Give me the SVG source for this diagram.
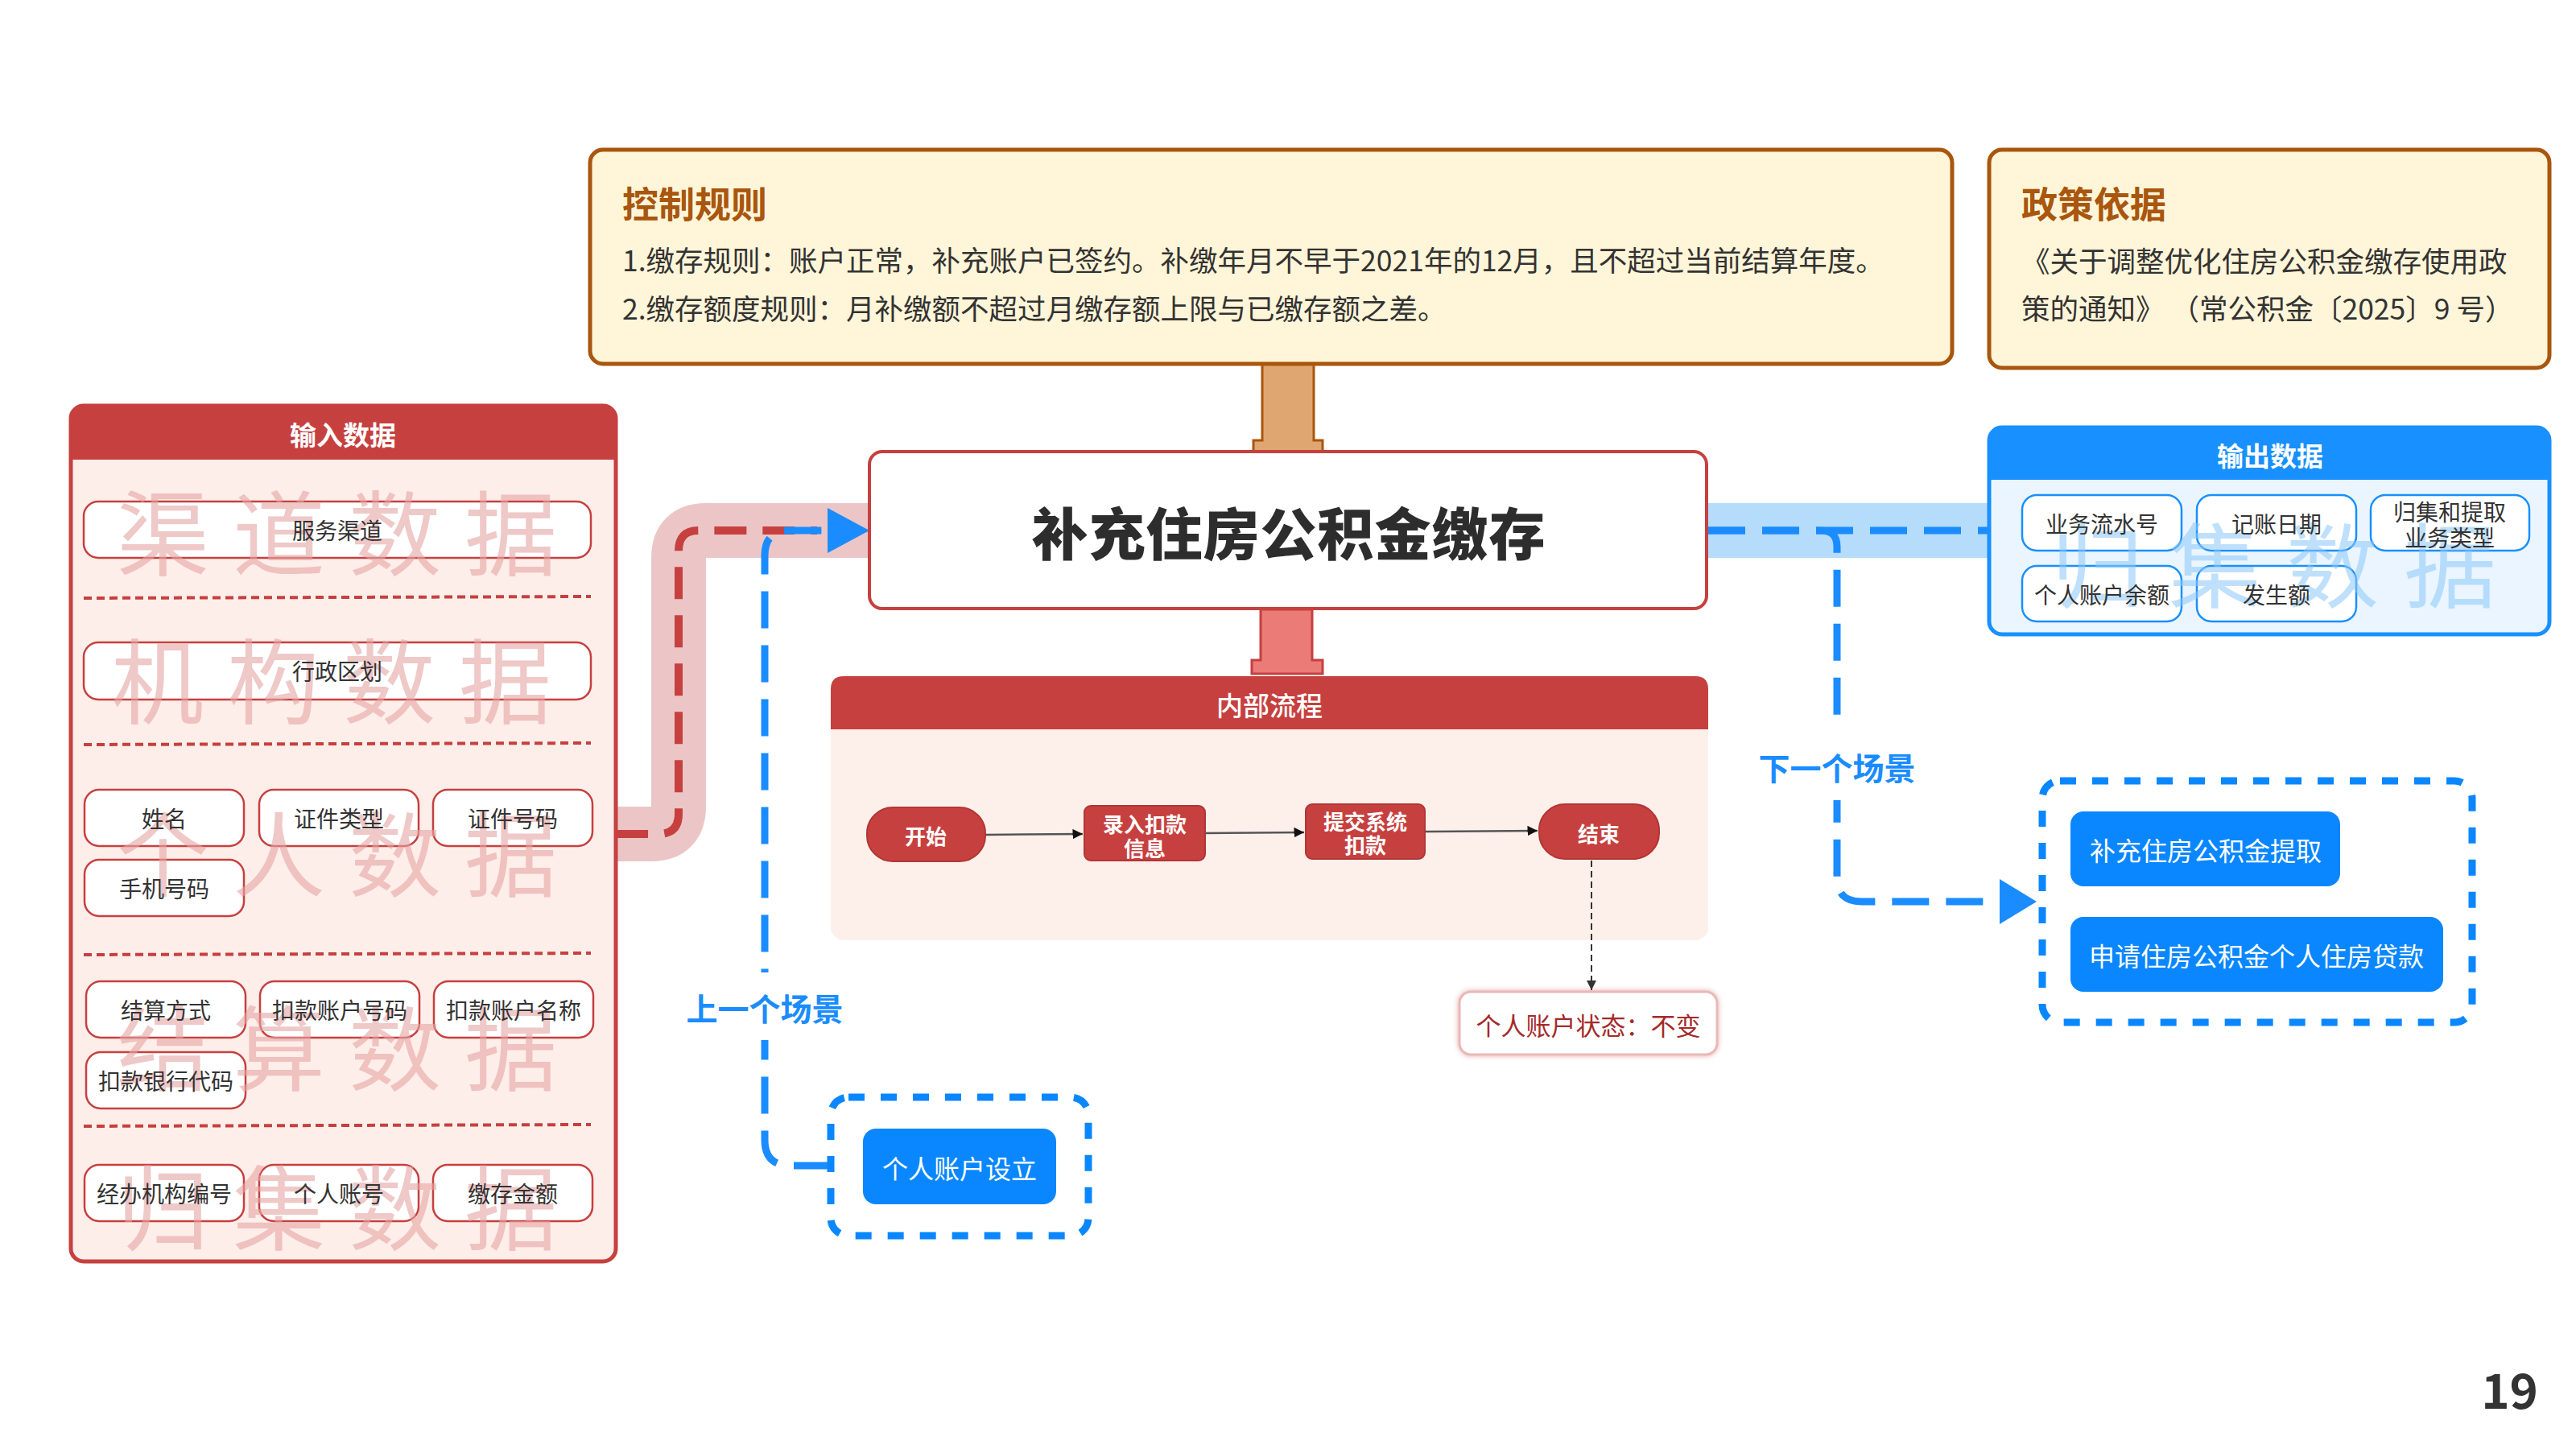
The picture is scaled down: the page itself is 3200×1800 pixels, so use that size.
<svg xmlns="http://www.w3.org/2000/svg" width="3200" height="1800" viewBox="0 0 3200 1800">
<defs>
<style>
text{font-family:"Noto Sans CJK SC","Noto Sans",sans-serif;}
.in-box{fill:#fff;stroke:#c6403f;stroke-width:2.5;}
.in-txt{font-size:28px;fill:#333;text-anchor:middle;dominant-baseline:central;}
.sep{stroke:#c6403f;stroke-width:4;stroke-dasharray:10 6;fill:none;}
.wm-r{font-size:115px;fill:#e6a4a4;opacity:0.6;}
.out-box{fill:#fff;stroke:#1890ff;stroke-width:2.5;}
.wm-b{font-size:115px;fill:#8cc8fa;opacity:0.55;}
.flow-node{fill:#c6403f;stroke:#b33535;stroke-width:2;}
.flow-txt{font-size:26px;font-weight:700;fill:#fff;text-anchor:middle;dominant-baseline:central;}
.scene-btn{fill:#0a87ff;}
.scene-txt{font-size:32px;fill:#fff;text-anchor:middle;dominant-baseline:central;}
.scene-frame{fill:none;stroke:#0a87ff;stroke-width:9;stroke-dasharray:20 20;}
.blue-dash{fill:none;stroke:#1a8cff;stroke-width:9;stroke-dasharray:46 21;}
.scene-label{font-size:39px;font-weight:700;fill:#1a8cff;text-anchor:middle;dominant-baseline:central;}
.hdr-txt{font-size:33px;font-weight:700;fill:#fff;text-anchor:middle;dominant-baseline:central;}
.rule-title{font-size:45px;font-weight:700;fill:#a9560e;dominant-baseline:central;}
.rule-txt{font-size:35.5px;fill:#333;dominant-baseline:central;text-spacing-trim:space-all;}
.flow-arrow{stroke:#555;stroke-width:2.5;fill:none;}
</style>
<marker id="arr" viewBox="0 0 10 10" refX="10" refY="5" markerWidth="5" markerHeight="5" markerUnits="strokeWidth" orient="auto"><path d="M0,0 L10,5 L0,10 z" fill="#111"/></marker>
<marker id="arr2" viewBox="0 0 10 10" refX="10" refY="5" markerWidth="6" markerHeight="6" markerUnits="strokeWidth" orient="auto"><path d="M0,0 L10,5 L0,10 z" fill="#333"/></marker>
<filter id="glow" x="-10%" y="-20%" width="120%" height="140%"><feDropShadow dx="0" dy="0" stdDeviation="3" flood-color="#c6403f" flood-opacity="0.45"/></filter>
</defs>
<rect width="3200" height="1800" fill="#fff"/>

<!-- internal flow container -->
<g id="internal-flow">
  <rect x="1032" y="840" width="1090" height="328" rx="16" fill="#fdf0eb"/>
  <path d="M1032,906 V856 Q1032,840 1048,840 H2106 Q2122,840 2122,856 V906 Z" fill="#c6403f"/>
  <text x="1577" y="875" font-size="33" font-weight="500" fill="#fff" text-anchor="middle" dominant-baseline="central">内部流程</text>
</g>

<!-- connectors -->
<g id="connectors">
  <path d="M765,1036 H809 Q843,1036 843,1002 V693 Q843,659 877,659 H1082" fill="none" stroke="#ecc6c6" stroke-width="68"/>
  <path d="M2118,659 H2475" fill="none" stroke="#b5dcfb" stroke-width="68"/>
  <path d="M765,1036 H818 Q843,1036 843,1011 V684 Q843,659 868,659 H1015" fill="none" stroke="#c6403f" stroke-width="10" stroke-dasharray="40 20"/>
  <path class="blue-dash" d="M1032,1448 H982 Q950,1448 950,1416 V690 Q950,659 981,659 H1030"/>
  <polygon points="1028,631 1080,659 1028,687" fill="#1a8cff"/>
  <path class="blue-dash" d="M2122,659 H2470"/>
  <path class="blue-dash" d="M2122,659 H2262 Q2282,659 2282,679 V1090 Q2282,1120 2312,1120 H2488"/>
  <polygon points="2484,1092 2530,1120 2484,1148" fill="#1a8cff"/>
  <path d="M1568,451 H1632 V547 H1643 V561 H1557 V547 H1568 Z" fill="#dfa671" stroke="#a9560e" stroke-width="3"/>
  <path d="M1566,757 H1630 V820 H1643 V837 H1555 V820 H1566 Z" fill="#eb7b77" stroke="#c6403f" stroke-width="3"/>
  <line class="flow-arrow" x1="1224" y1="1037" x2="1345" y2="1036" marker-end="url(#arr)"/>
  <line class="flow-arrow" x1="1497" y1="1035" x2="1620" y2="1034" marker-end="url(#arr)"/>
  <line class="flow-arrow" x1="1770" y1="1033" x2="1910" y2="1032" marker-end="url(#arr)"/>
  <line x1="1977" y1="1069" x2="1977" y2="1230" stroke="#333" stroke-width="2" stroke-dasharray="8 5" marker-end="url(#arr2)"/>
  <rect x="848" y="1208" width="204" height="84" fill="#fff"/>
  <text class="scene-label" x="950" y="1251">上一个场景</text>
  <rect x="2180" y="906" width="204" height="88" fill="#fff"/>
  <text class="scene-label" x="2282" y="952">下一个场景</text>
</g>

<!-- control rules -->
<g id="control-rules">
  <rect x="733" y="186" width="1692" height="266" rx="16" fill="#fff5d8" stroke="#a9560e" stroke-width="5"/>
  <text class="rule-title" x="773" y="251">控制规则</text>
  <text class="rule-txt" x="773" y="321">1.缴存规则：账户正常，补充账户已签约。补缴年月不早于2021年的12月，且不超过当前结算年度。</text>
  <text class="rule-txt" x="773" y="381">2.缴存额度规则：月补缴额不超过月缴存额上限与已缴存额之差。</text>
</g>

<!-- policy -->
<g id="policy">
  <rect x="2471" y="186" width="696" height="271" rx="16" fill="#fff5d8" stroke="#a9560e" stroke-width="5"/>
  <text class="rule-title" x="2511" y="251">政策依据</text>
  <text class="rule-txt" x="2511" y="322">《关于调整优化住房公积金缴存使用政</text>
  <text class="rule-txt" x="2511" y="381">策的通知》 （常公积金〔2025〕9 号）</text>
</g>

<!-- input data -->
<g id="input-data">
  <rect x="88" y="504" width="677" height="1063" rx="16" fill="#fdeeea" stroke="#c6403f" stroke-width="5"/>
  <path d="M88,571 V520 Q88,504 104,504 H749 Q765,504 765,520 V571 Z" fill="#c6403f"/>
  <text class="hdr-txt" x="426" y="539">输入数据</text>
  <line class="sep" x1="104" y1="743" x2="734" y2="741"/>
  <line class="sep" x1="104" y1="925" x2="734" y2="923"/>
  <line class="sep" x1="104" y1="1186" x2="734" y2="1184"/>
  <line class="sep" x1="104" y1="1399" x2="734" y2="1397"/>
  <rect class="in-box" x="104" y="623" width="630" height="70" rx="18"/>
  <rect class="in-box" x="104" y="798" width="630" height="71" rx="18"/>
  <rect class="in-box" x="105" y="981" width="198" height="70" rx="18"/>
  <rect class="in-box" x="322" y="981" width="198" height="70" rx="18"/>
  <rect class="in-box" x="538" y="981" width="198" height="70" rx="18"/>
  <rect class="in-box" x="105" y="1068" width="198" height="70" rx="18"/>
  <rect class="in-box" x="107" y="1219" width="198" height="70" rx="18"/>
  <rect class="in-box" x="323" y="1219" width="198" height="70" rx="18"/>
  <rect class="in-box" x="539" y="1219" width="198" height="70" rx="18"/>
  <rect class="in-box" x="107" y="1307" width="198" height="70" rx="18"/>
  <rect class="in-box" x="105" y="1447" width="198" height="70" rx="18"/>
  <rect class="in-box" x="322" y="1447" width="198" height="70" rx="18"/>
  <rect class="in-box" x="538" y="1447" width="198" height="70" rx="18"/>
  <text class="wm-r" x="145 289 433 577" y="706">渠道数据</text>
  <text class="wm-r" x="138 282 426 570" y="890">机构数据</text>
  <text class="wm-r" x="145 289 433 577" y="1105">个人数据</text>
  <text class="wm-r" x="145 289 433 577" y="1346">结算数据</text>
  <text class="wm-r" x="145 289 433 577" y="1544">归集数据</text>
  <text class="in-txt" x="419" y="658">服务渠道</text>
  <text class="in-txt" x="419" y="833">行政区划</text>
  <text class="in-txt" x="204" y="1016">姓名</text>
  <text class="in-txt" x="421" y="1016">证件类型</text>
  <text class="in-txt" x="637" y="1016">证件号码</text>
  <text class="in-txt" x="204" y="1103">手机号码</text>
  <text class="in-txt" x="206" y="1254">结算方式</text>
  <text class="in-txt" x="422" y="1254">扣款账户号码</text>
  <text class="in-txt" x="638" y="1254">扣款账户名称</text>
  <text class="in-txt" x="206" y="1342">扣款银行代码</text>
  <text class="in-txt" x="204" y="1482">经办机构编号</text>
  <text class="in-txt" x="421" y="1482">个人账号</text>
  <text class="in-txt" x="637" y="1482">缴存金额</text>
</g>

<!-- main node -->
<g id="main-node">
  <rect x="1080" y="561" width="1040" height="195" rx="16" fill="#fff" stroke="#c6403f" stroke-width="4"/>
  <text x="1601" y="659" font-size="70" font-weight="900" fill="#2d2d2d" text-anchor="middle" dominant-baseline="central" letter-spacing="1">补充住房公积金缴存</text>
</g>

<!-- flow nodes -->
<g id="flow-start">
  <rect class="flow-node" x="1077" y="1003" width="147" height="67" rx="32"/>
  <text class="flow-txt" x="1150" y="1037">开始</text>
</g>
<g id="flow-input">
  <rect class="flow-node" x="1347" y="1001" width="150" height="68" rx="8"/>
  <text class="flow-txt" x="1422" y="1022">录入扣款</text>
  <text class="flow-txt" x="1422" y="1052">信息</text>
</g>
<g id="flow-submit">
  <rect class="flow-node" x="1622" y="999" width="148" height="68" rx="8"/>
  <text class="flow-txt" x="1696" y="1019">提交系统</text>
  <text class="flow-txt" x="1696" y="1048">扣款</text>
</g>
<g id="flow-end">
  <rect class="flow-node" x="1912" y="999" width="149" height="68" rx="32"/>
  <text class="flow-txt" x="1986" y="1034">结束</text>
</g>
<g id="status">
  <rect x="1813" y="1232" width="320" height="78" rx="14" fill="#fff" stroke="#eab8b6" stroke-width="3" filter="url(#glow)"/>
  <text x="1973" y="1272" font-size="31" fill="#a52a2a" text-anchor="middle" dominant-baseline="central">个人账户状态：不变</text>
</g>

<!-- output data -->
<g id="output-data">
  <rect x="2471" y="531" width="696" height="257" rx="16" fill="#ebf5ff" stroke="#1890ff" stroke-width="5"/>
  <path d="M2471,596 V547 Q2471,531 2487,531 H3151 Q3167,531 3167,547 V596 Z" fill="#1890ff"/>
  <text class="hdr-txt" x="2820" y="565">输出数据</text>
  <rect class="out-box" x="2512" y="615" width="198" height="69" rx="18"/>
  <rect class="out-box" x="2729" y="615" width="198" height="69" rx="18"/>
  <rect class="out-box" x="2945" y="615" width="197" height="69" rx="18"/>
  <rect class="out-box" x="2512" y="703" width="198" height="69" rx="18"/>
  <rect class="out-box" x="2729" y="703" width="198" height="69" rx="18"/>
  <text class="wm-b" x="2548 2694 2840 2986" y="746">归集数据</text>
  <text class="in-txt" x="2611" y="650">业务流水号</text>
  <text class="in-txt" x="2828" y="650">记账日期</text>
  <text class="in-txt" x="3043" y="635">归集和提取</text>
  <text class="in-txt" x="3043" y="667">业务类型</text>
  <text class="in-txt" x="2611" y="738">个人账户余额</text>
  <text class="in-txt" x="2828" y="738">发生额</text>
</g>

<!-- previous scene -->
<g id="prev-scene">
  <rect class="scene-frame" x="1032" y="1363" width="320" height="172" rx="22"/>
  <rect class="scene-btn" x="1072" y="1402" width="240" height="94" rx="16"/>
  <text class="scene-txt" x="1192" y="1450">个人账户设立</text>
</g>

<!-- next scene -->
<g id="next-scene">
  <rect class="scene-frame" x="2537" y="970" width="534" height="300" rx="22"/>
  <rect class="scene-btn" x="2572" y="1008" width="335" height="93" rx="16"/>
  <text class="scene-txt" x="2740" y="1055">补充住房公积金提取</text>
  <rect class="scene-btn" x="2572" y="1139" width="463" height="93" rx="16"/>
  <text class="scene-txt" x="2803" y="1186">申请住房公积金个人住房贷款</text>
</g>

<text x="3153" y="1750" font-size="60" font-weight="700" fill="#333" text-anchor="end">19</text>
</svg>
